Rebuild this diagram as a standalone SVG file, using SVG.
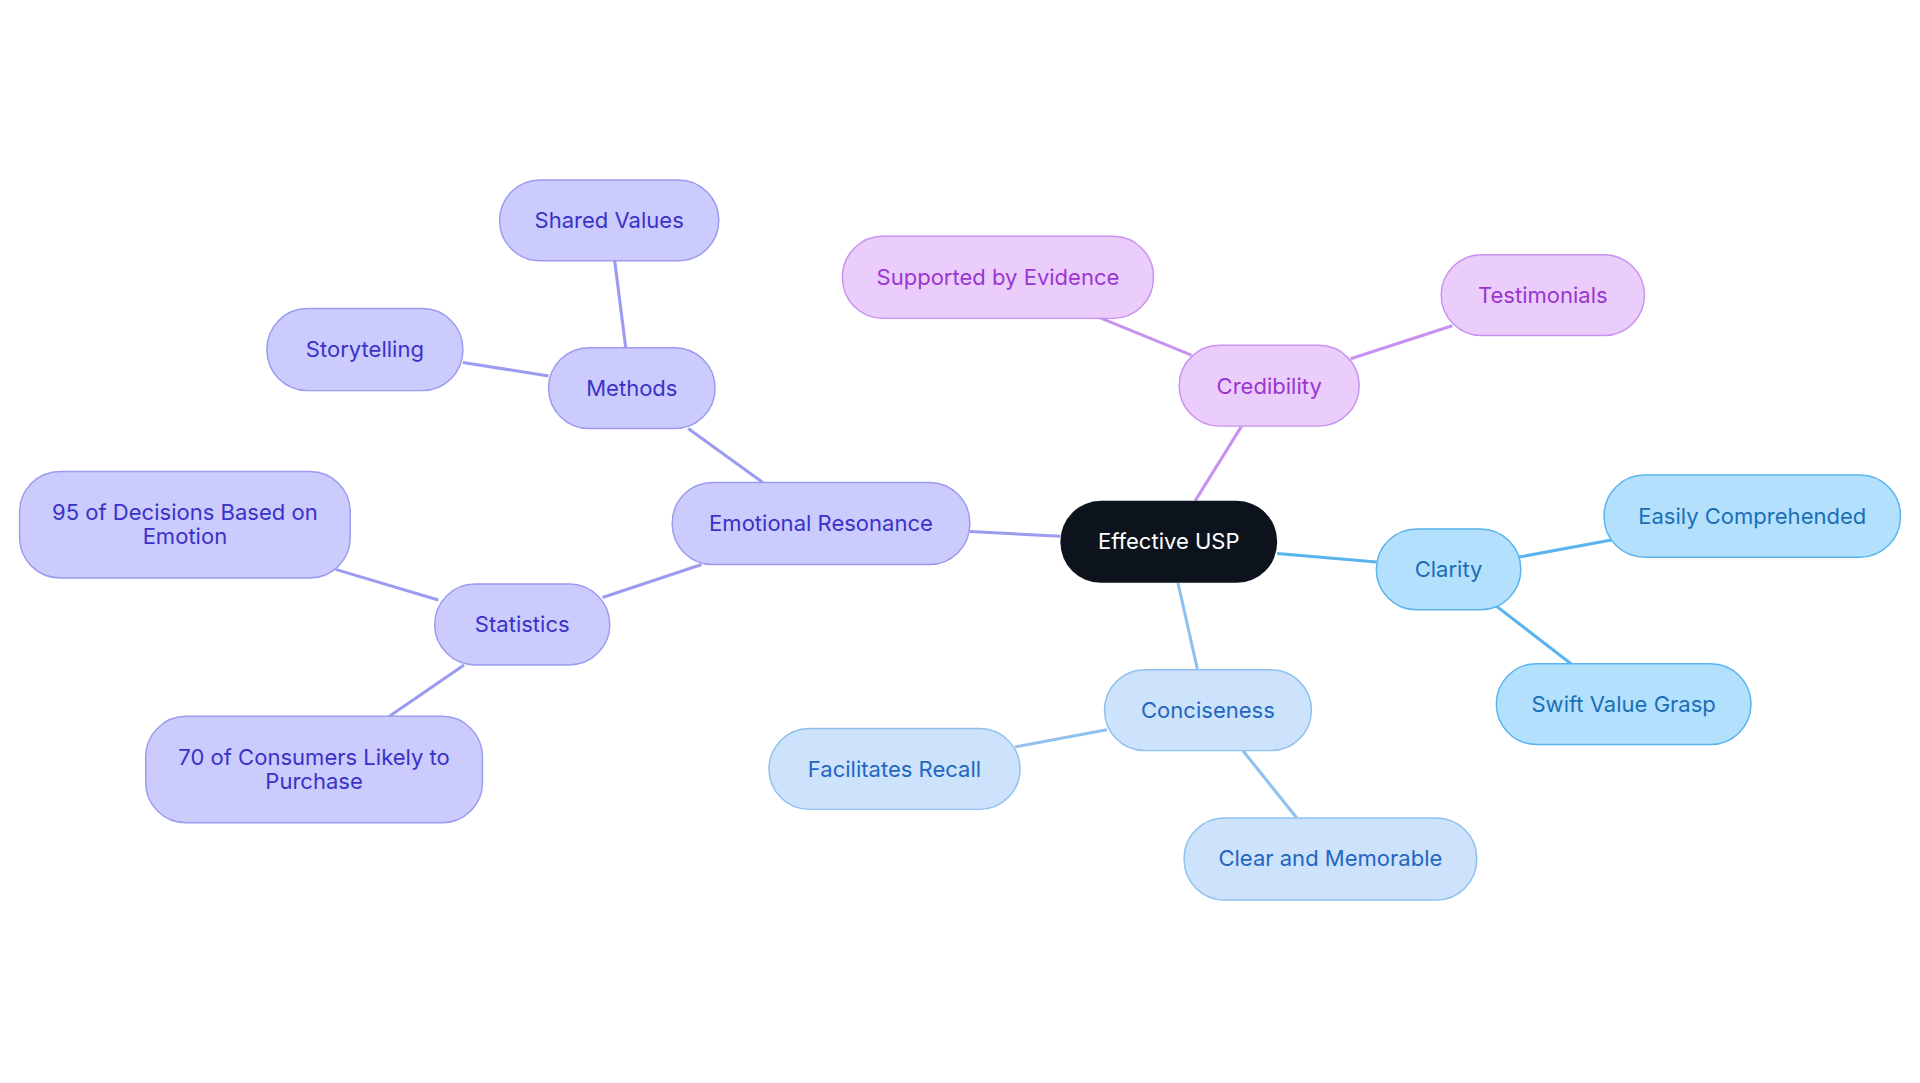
<svg xmlns="http://www.w3.org/2000/svg" width="1920" height="1083" viewBox="0 0 1920 1083">
<style>
text{font-family:Inter,"Noto Sans",sans-serif;font-size:18px;text-anchor:middle;dominant-baseline:central}
.e line{stroke-width:2.5}
.p rect{fill:#cbcbfd;stroke:#9b9bf0;stroke-width:1.2}.p text{fill:#3a32c8}
.m rect{fill:#ebcdfc;stroke:#c892f0;stroke-width:1.2}.m text{fill:#9a36cf}
.b rect{fill:#b3e0fd;stroke:#5ab4ee;stroke-width:1.2}.b text{fill:#1a6fb5}
.l rect{fill:#cce3fb;stroke:#8fc1ef;stroke-width:1.2}.l text{fill:#2466c0}
</style>
<rect width="1920" height="1083" fill="#fff"/>
<g transform="scale(1.22449)">
<g id="connectors" class="e">
<line x1="792" y1="434" x2="866" y2="438" stroke="#9b9bf0"/>
<line x1="623" y1="394" x2="562" y2="350" stroke="#9b9bf0"/>
<line x1="511" y1="284" x2="502" y2="213" stroke="#9b9bf0"/>
<line x1="448" y1="307" x2="378" y2="296" stroke="#9b9bf0"/>
<line x1="573" y1="461" x2="492" y2="488" stroke="#9b9bf0"/>
<line x1="358" y1="490" x2="274" y2="465" stroke="#9b9bf0"/>
<line x1="379" y1="543" x2="318" y2="585" stroke="#9b9bf0"/>
<line x1="976" y1="409" x2="1014" y2="348" stroke="#c892f0"/>
<line x1="973" y1="290" x2="897" y2="259" stroke="#c892f0"/>
<line x1="1103" y1="293" x2="1186" y2="266" stroke="#c892f0"/>
<line x1="1043" y1="452" x2="1124" y2="459" stroke="#5ab4ee"/>
<line x1="1240" y1="455" x2="1316" y2="441" stroke="#5ab4ee"/>
<line x1="1222" y1="495" x2="1283" y2="542" stroke="#5ab4ee"/>
<line x1="962" y1="476" x2="978" y2="547" stroke="#8fc1ef"/>
<line x1="904" y1="596" x2="829" y2="610" stroke="#8fc1ef"/>
<line x1="1015" y1="613" x2="1059" y2="668" stroke="#8fc1ef"/>
</g>
<g id="n-usp"><rect x="866" y="409" width="177" height="67" rx="33" fill="#0d131c"/><text x="954.5" y="442" fill="#fff">Effective USP</text></g>
<g id="n-emo" class="p"><rect x="549" y="394" width="243" height="67" rx="33"/><text x="670.5" y="427">Emotional Resonance</text></g>
<g id="n-methods" class="p"><rect x="448" y="284" width="136" height="66" rx="33"/><text x="516" y="317">Methods</text></g>
<g id="n-shared" class="p"><rect x="408" y="147" width="179" height="66" rx="33"/><text x="497.5" y="180">Shared Values</text></g>
<g id="n-story" class="p"><rect x="218" y="252" width="160" height="67" rx="33"/><text x="298" y="285">Storytelling</text></g>
<g id="n-stats" class="p"><rect x="355" y="477" width="143" height="66" rx="33"/><text x="426.5" y="510">Statistics</text></g>
<g id="n-95" class="p"><rect x="16" y="385" width="270" height="87" rx="33"/><text x="151" y="418">95 of Decisions Based on</text><text x="151" y="438">Emotion</text></g>
<g id="n-70" class="p"><rect x="119" y="585" width="275" height="87" rx="33"/><text x="256.5" y="618">70 of Consumers Likely to</text><text x="256.5" y="638">Purchase</text></g>
<g id="n-cred" class="m"><rect x="963" y="282" width="147" height="66" rx="33"/><text x="1036.5" y="315">Credibility</text></g>
<g id="n-evid" class="m"><rect x="688" y="193" width="254" height="67" rx="33"/><text x="815" y="226">Supported by Evidence</text></g>
<g id="n-test" class="m"><rect x="1177" y="208" width="166" height="66" rx="33"/><text x="1260" y="241">Testimonials</text></g>
<g id="n-clarity" class="b"><rect x="1124" y="432" width="118" height="66" rx="33"/><text x="1183" y="465">Clarity</text></g>
<g id="n-easy" class="b"><rect x="1310" y="388" width="242" height="67" rx="33"/><text x="1431" y="421">Easily Comprehended</text></g>
<g id="n-swift" class="b"><rect x="1222" y="542" width="208" height="66" rx="33"/><text x="1326" y="575">Swift Value Grasp</text></g>
<g id="n-conc" class="l"><rect x="902" y="547" width="169" height="66" rx="33"/><text x="986.5" y="580">Conciseness</text></g>
<g id="n-recall" class="l"><rect x="628" y="595" width="205" height="66" rx="33"/><text x="730.5" y="628">Facilitates Recall</text></g>
<g id="n-clear" class="l"><rect x="967" y="668" width="239" height="67" rx="33"/><text x="1086.5" y="701">Clear and Memorable</text></g>
</g>
</svg>
